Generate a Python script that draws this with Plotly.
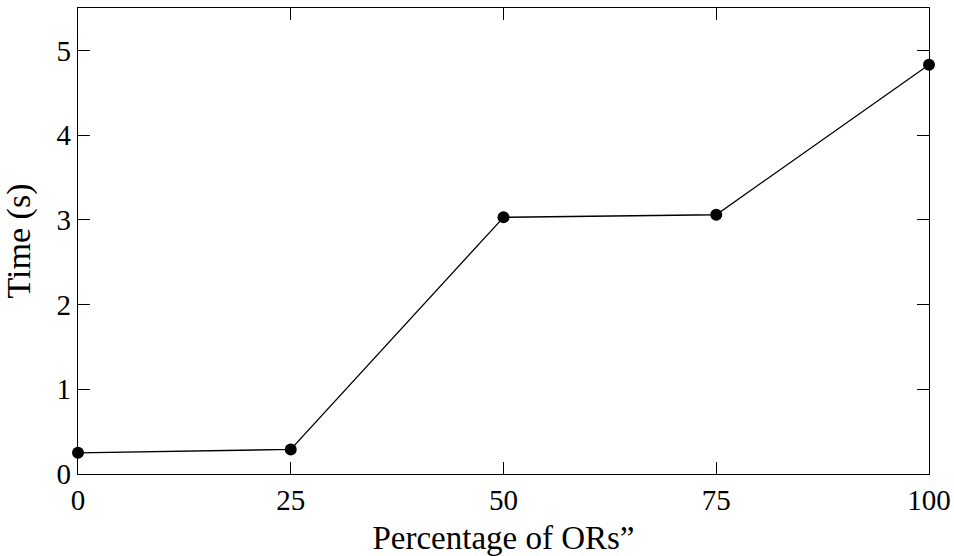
import plotly.graph_objects as go

x_vals = [0, 25, 50, 75, 100]
time_s = [0.25, 0.29, 3.03, 3.06, 4.83]
x_ticks = [0, 25, 50, 75, 100]
y_ticks = [0, 1, 2, 3, 4, 5]

FONT = "Liberation Serif"

fig = go.Figure()
fig.add_trace(go.Scatter(
    x=x_vals, y=time_s, mode="lines+markers",
    line=dict(color="black", width=1.3),
    marker=dict(color="black", size=12),
    showlegend=False, cliponaxis=False,
))

axis_common = dict(
    showline=True, linecolor="black", linewidth=1.3, mirror="allticks",
    ticks="inside", ticklen=12, tickwidth=1, tickcolor="black",
    showgrid=False, zeroline=False, automargin=False,
    tickfont=dict(family=FONT, size=29, color="black"),
)

fig.update_layout(
    width=954, height=556,
    margin=dict(l=78, r=25, t=8, b=82),
    paper_bgcolor="white", plot_bgcolor="white",
    font=dict(family=FONT, size=29, color="black"),
    xaxis=dict(range=[0, 100], tickvals=x_ticks, ticktext=[str(v) for v in x_ticks],
               title=dict(text="Percentage of ORs\u201d", font=dict(family=FONT, size=33)),
               **axis_common),
    yaxis=dict(range=[0, 5.5], tickvals=y_ticks, ticktext=[str(v) for v in y_ticks],
               title=dict(text="Time (s)", font=dict(family=FONT, size=34)),
               **axis_common),
)

fig.write_html("out.html")
